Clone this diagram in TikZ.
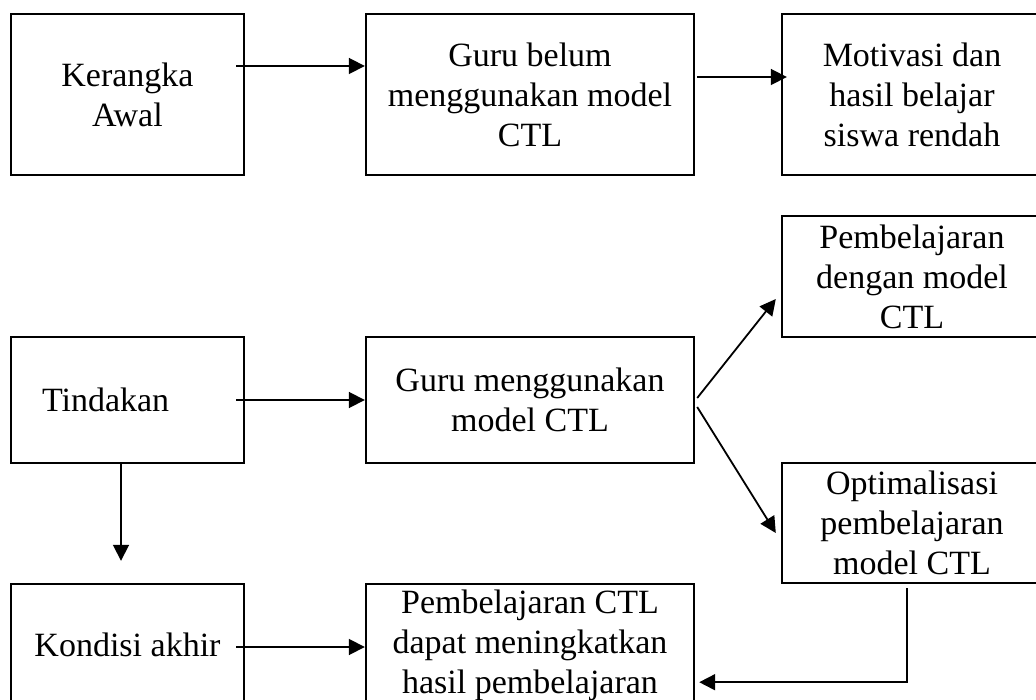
\documentclass[tikz,border=0pt]{standalone}
\usepackage{fontspec}
\setmainfont{Liberation Serif}
\usetikzlibrary{arrows.meta}
\begin{document}
\begin{tikzpicture}[x=1pt,y=-1pt,
  box/.style={draw, line width=2.4pt, rectangle, inner sep=0pt, align=center,
    font=\fontsize{34}{40}\selectfont},
  arr/.style={line width=1.8pt, -{Triangle[length=16pt,width=16pt]}}]
\path[use as bounding box] (0,0) rectangle (1036,700);
\clip (0,0) rectangle (1036,700);
% top row
\node[box, minimum width=233, minimum height=161] (k1) at (127.5,94.5) {Kerangka\\Awal};
\node[box, minimum width=328, minimum height=161] (k2) at (530,94.5) {Guru belum\\menggunakan model\\CTL};
\node[box, minimum width=260, minimum height=161] (k3) at (912,94.5) {Motivasi dan\\hasil belajar\\siswa rendah};
% middle
\node[box, minimum width=260, minimum height=121] (pdm) at (912,276.5) {Pembelajaran\\dengan model\\CTL};
\node[box, text width=171pt, inner xsep=31pt, minimum height=126, align=left] (tin) at (127.5,400) {Tindakan};
\node[box, minimum width=328, minimum height=126] (gm) at (530,400) {Guru menggunakan\\model CTL};
\node[box, minimum width=260, minimum height=120] (opt) at (912,523) {Optimalisasi\\pembelajaran\\model CTL};
% bottom
\node[box, minimum width=233, minimum height=122] (kon) at (127.5,645) {Kondisi akhir};
\node[box, minimum width=328, minimum height=122] (fin) at (530,645) {Pembelajaran CTL\\dapat meningkatkan\\hasil pembelajaran};
% connectors
\draw[arr] ([xshift=-9pt,yshift=28.5pt]k1.east) -- ([yshift=28.5pt]k2.west);
\draw[arr] ([xshift=2pt,yshift=17.5pt]k2.east) -- ([xshift=6pt,yshift=17.5pt]k3.west);
\draw[arr] ([xshift=-9pt]tin.east) -- (gm.west);
\draw[arr] ([xshift=2pt,yshift=2pt]gm.east) -- ([xshift=-5pt,yshift=-22.5pt]pdm.west);
\draw[arr] ([xshift=2pt,yshift=-7pt]gm.east) -- ([xshift=-5pt,yshift=-10pt]opt.west);
\draw[arr] ([xshift=-6.5pt]tin.south) -- ([xshift=-6.5pt,yshift=22pt]kon.north);
\draw[arr] ([xshift=-9pt,yshift=-2pt]kon.east) -- ([yshift=-2pt]fin.west);
\coordinate (bend) at ([xshift=-5pt,yshift=-98pt]opt.south);
\draw[arr] ([xshift=-5pt,yshift=-4pt]opt.south) -- (bend) -- ([xshift=4pt]fin.east |- bend);
\end{tikzpicture}
\end{document}
